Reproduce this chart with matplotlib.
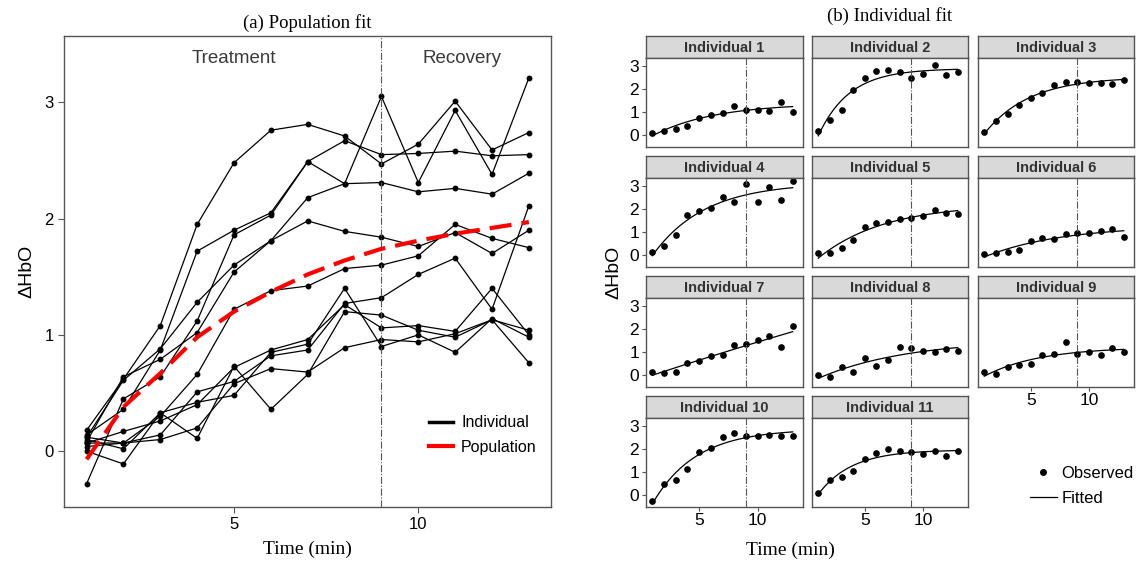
import numpy as np
import matplotlib
matplotlib.use("Agg")
import matplotlib.pyplot as plt
from matplotlib.lines import Line2D

# time points (min)
time = np.arange(1, 14)

# observed dHbO per individual
ind1 = [0.07, 0.17, 0.26, 0.40, 0.72, 0.87, 0.96, 1.26, 1.06, 1.08, 1.03, 1.40, 1.00]
ind2 = [0.18, 0.62, 1.08, 1.95, 2.48, 2.76, 2.81, 2.71, 2.47, 2.64, 3.01, 2.59, 2.74]
ind3 = [0.12, 0.61, 0.88, 1.28, 1.60, 1.81, 2.18, 2.30, 2.31, 2.23, 2.26, 2.21, 2.39]
ind4 = [0.14, 0.36, 0.87, 1.72, 1.90, 2.05, 2.49, 2.30, 3.05, 2.31, 2.93, 2.38, 3.21]
ind5 = [0.07, 0.07, 0.30, 0.66, 1.22, 1.38, 1.42, 1.57, 1.60, 1.68, 1.95, 1.83, 1.75]
ind6 = [0.04, 0.07, 0.10, 0.20, 0.58, 0.71, 0.68, 0.89, 0.96, 0.94, 1.01, 1.13, 0.76]
ind7 = [0.12, 0.07, 0.14, 0.51, 0.60, 0.82, 0.87, 1.27, 1.32, 1.52, 1.66, 1.22, 2.11]
ind8 = [0.00, -0.11, 0.33, 0.11, 0.73, 0.36, 0.66, 1.20, 1.17, 1.04, 0.98, 1.13, 1.04]
ind9 = [0.10, 0.02, 0.33, 0.42, 0.48, 0.85, 0.92, 1.40, 0.90, 1.00, 0.85, 1.14, 0.98]
ind10 = [-0.28, 0.45, 0.64, 1.12, 1.86, 2.03, 2.49, 2.67, 2.55, 2.56, 2.58, 2.54, 2.55]
ind11 = [0.08, 0.64, 0.79, 1.02, 1.54, 1.81, 1.98, 1.89, 1.84, 1.76, 1.88, 1.70, 1.90]
individuals = [ind1, ind2, ind3, ind4, ind5, ind6, ind7, ind8, ind9, ind10, ind11]
names = ["Individual %d" % (i + 1) for i in range(len(individuals))]

# population fit (red dashed)
population = [-0.07, 0.38, 0.67, 0.98, 1.20, 1.37, 1.52, 1.64, 1.74, 1.81, 1.87, 1.92, 1.97]

switch_time = 9
W, H = 1142, 569

sans = ["Liberation Sans", "DejaVu Sans"]
serif = ["Liberation Serif", "DejaVu Serif"]
dark = "#3a3a3a"
border = "#555555"


def fit_curve(t, y):
    # saturating exponential y = a + c*exp(-b t), b by grid search
    t = np.asarray(t, float)
    y = np.asarray(y, float)
    best = None
    for b in np.linspace(0.01, 1.5, 300):
        X = np.column_stack([np.ones_like(t), np.exp(-b * t)])
        coef = np.linalg.lstsq(X, y, rcond=None)[0]
        sse = np.sum((X @ coef - y) ** 2)
        if best is None or sse < best[0]:
            best = (sse, b, coef)
    _, b, coef = best
    tt = np.linspace(t.min(), t.max(), 120)
    return tt, coef[0] + coef[1] * np.exp(-b * tt)


def px_axes(fig, x0, y0, x1, y1):
    return fig.add_axes([x0 / W, 1 - y1 / H, (x1 - x0) / W, (y1 - y0) / H])


def style_box(ax):
    for s in ax.spines.values():
        s.set_color(border)
        s.set_linewidth(1.0)


fig = plt.figure(figsize=(W / 100, H / 100), dpi=100)
fig.patch.set_facecolor("white")

# ---------- (a) population fit ----------
ax = px_axes(fig, 64, 36, 551, 507)
for y in individuals:
    ax.plot(time, y, color="black", lw=0.9, marker="o", ms=3.2)
ax.plot(time, population, color="red", lw=3, dashes=(5.3, 2.4))
ax.axvline(switch_time, color="#555555", lw=0.8, ls="-.")
ax.set_xlim(0.387, 13.6)
ax.set_ylim(-0.48, 3.57)
ax.set_xticks([5, 10])
ax.set_yticks([0, 1, 2, 3])
ax.tick_params(labelsize=12, colors=border, labelcolor="black", length=4)
for lab in ax.get_xticklabels() + ax.get_yticklabels():
    lab.set_family(sans)
style_box(ax)
ax.text(5, 3.38, "Treatment", ha="center", va="center", fontsize=13.5, color=dark, family=sans)
ax.text(11.18, 3.38, "Recovery", ha="center", va="center", fontsize=13.5, color=dark, family=sans)
ax.set_xlabel("Time (min)", fontsize=14, family=serif, labelpad=6)
ax.set_ylabel("ΔHbO", fontsize=14, family=sans, labelpad=6)
ax.set_title("(a) Population fit", fontsize=13.5, family=serif, pad=6)
handles = [Line2D([], [], color="black", lw=2.5),
           Line2D([], [], color="red", lw=3)]
ax.legend(handles, ["Individual", "Population"], loc="lower right", frameon=False,
          prop={"family": sans, "size": 11.5}, handlelength=1.5, handletextpad=0.5,
          labelspacing=0.6, bbox_to_anchor=(1.0, 0.08))

# ---------- (b) individual fit ----------
cols = [(646, 803), (812, 968), (978, 1134)]
strip_tops = [36, 156, 276, 396]
strip_h = 22
panel_h = 88.5

for i, (y, name) in enumerate(zip(individuals, names)):
    r, c = divmod(i, 3)
    x0, x1 = cols[c]
    st = strip_tops[r]
    sa = px_axes(fig, x0, st, x1, st + strip_h)
    sa.set_facecolor("#d9d9d9")
    sa.set_xticks([])
    sa.set_yticks([])
    style_box(sa)
    sa.text(0.5, 0.45, name, transform=sa.transAxes, ha="center", va="center",
            fontsize=10.5, fontweight="bold", color="#333333", family=sans)

    pa = px_axes(fig, x0, st + strip_h, x1, st + strip_h + panel_h)
    pa.plot(time, y, ls="none", marker="o", ms=3.8, color="black")
    tt, fy = fit_curve(time, y)
    pa.plot(tt, fy, color="black", lw=0.9)
    pa.axvline(switch_time, color="#555555", lw=0.8, ls="-.")
    pa.set_xlim(0.46, 13.88)
    pa.set_ylim(-0.51, 3.33)
    pa.set_xticks([5, 10])
    pa.set_yticks([0, 1, 2, 3])
    pa.tick_params(labelsize=12.5, colors=border, labelcolor="black", length=3, pad=2)
    for lab in pa.get_xticklabels() + pa.get_yticklabels():
        lab.set_family(sans)
    if c != 0:
        pa.tick_params(axis="y", left=False, labelleft=False)
    bottom_of_col = (r == 3) or (c == 2 and r == 2)
    if not bottom_of_col:
        pa.tick_params(axis="x", bottom=False, labelbottom=False)
    style_box(pa)

fig.text(790 / W, 1 - 550 / H, "Time (min)", ha="center", va="center",
         fontsize=14, family=serif)
fig.text(614 / W, 1 - 272 / H, "ΔHbO", ha="center", va="center", rotation=90,
         fontsize=14, family=sans)
fig.text(890 / W, 1 - 16 / H, "(b) Individual fit", ha="center", va="center",
         fontsize=13.5, family=serif)

leg_handles = [Line2D([], [], ls="none", marker="o", ms=4, color="black"),
               Line2D([], [], color="black", lw=0.9)]
fig.legend(leg_handles, ["Observed", "Fitted"], loc="center left", frameon=False,
           prop={"family": sans, "size": 12}, handlelength=1.6, handletextpad=0.3,
           labelspacing=0.6, bbox_to_anchor=(1015 / W, 1 - 486 / H))

fig.savefig("out.png", dpi=100, facecolor="white")
